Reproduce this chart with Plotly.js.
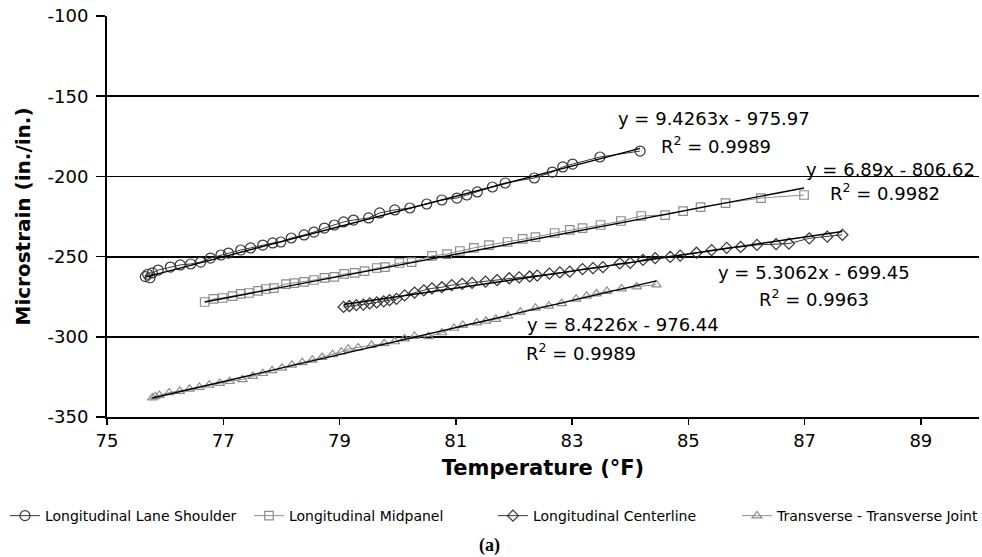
<!DOCTYPE html>
<html><head><meta charset="utf-8">
<script src="https://cdn.plot.ly/plotly-3.0.1.min.js"></script>
<style>html,body{margin:0;padding:0;background:#fff;}#chart{width:982px;height:557px;}</style>
</head><body><div id="chart"></div>
<script>
// ---- data ----
var seriesNames = ['Longitudinal Lane Shoulder','Longitudinal Midpanel','Longitudinal Centerline','Transverse - Transverse Joint'];

var laneShoulderX = [75.66,75.70,75.74,75.78,75.88,76.09,76.26,76.44,76.61,76.78,76.96,77.09,77.30,77.47,77.68,77.85,77.99,78.17,78.39,78.56,78.74,78.91,79.07,79.24,79.50,79.69,79.95,80.21,80.50,80.76,81.02,81.19,81.37,81.63,81.85,82.35,82.66,82.84,83.01,83.48,84.17];
var laneShoulderY = [-262.5,-261.0,-263.2,-260.2,-258.4,-256.5,-255.2,-254.6,-253.4,-250.9,-249.0,-247.8,-245.9,-244.6,-242.8,-241.5,-240.9,-238.4,-236.5,-234.7,-232.2,-230.3,-228.4,-227.2,-225.9,-222.8,-220.9,-219.7,-217.2,-214.7,-213.5,-211.6,-209.7,-206.6,-204.1,-201.0,-197.3,-194.1,-192.3,-187.9,-184.2];

var midpanelX = [76.68,76.83,76.99,77.16,77.30,77.44,77.60,77.73,77.87,78.08,78.22,78.39,78.56,78.74,78.91,79.08,79.26,79.43,79.64,79.78,80.03,80.24,80.59,80.85,81.07,81.31,81.57,81.89,82.15,82.37,82.70,82.96,83.18,83.49,83.84,84.19,84.60,84.91,85.21,85.64,86.25,86.99];
var midpanelY = [-278.3,-276.4,-275.8,-274.6,-273.3,-272.7,-271.4,-270.2,-269.6,-267.1,-266.5,-265.8,-264.6,-263.3,-262.7,-260.8,-260.2,-259.0,-257.1,-256.5,-254.0,-253.4,-249.6,-248.4,-246.5,-244.6,-242.8,-240.9,-239.0,-237.8,-235.3,-233.4,-232.2,-230.3,-227.8,-224.7,-224.1,-221.6,-219.1,-216.6,-213.5,-211.6];

var centerlineX = [79.07,79.17,79.29,79.41,79.52,79.64,79.76,79.86,79.98,80.12,80.29,80.45,80.59,80.76,80.93,81.11,81.28,81.51,81.71,81.92,82.09,82.27,82.40,82.61,82.79,82.96,83.18,83.36,83.53,83.82,84.00,84.22,84.43,84.69,84.86,85.14,85.40,85.66,85.90,86.18,86.51,86.73,87.08,87.39,87.65];
var centerlineY = [-281.4,-280.8,-280.3,-279.9,-279.2,-278.6,-277.9,-277.2,-276.4,-274.2,-272.4,-271.0,-269.8,-269.1,-267.8,-267.0,-266.4,-265.6,-264.6,-263.5,-263.0,-262.4,-261.8,-260.6,-259.9,-259.4,-257.8,-257.2,-256.6,-254.2,-253.9,-252.0,-251.0,-250.2,-249.4,-247.6,-246.0,-244.6,-244.0,-242.7,-242.2,-241.9,-238.6,-237.6,-236.4];

var transverseX = [75.78,75.83,75.90,76.07,76.25,76.42,76.59,76.76,76.94,77.11,77.33,77.51,77.68,77.84,78.01,78.18,78.36,78.53,78.70,78.88,79.03,79.15,79.32,79.55,79.77,79.95,80.12,80.29,80.53,80.76,80.97,81.12,81.36,81.52,81.69,81.90,82.11,82.37,82.60,82.82,83.07,83.25,83.42,83.60,83.85,84.11,84.45];
var transverseY = [-338.0,-337.2,-336.4,-334.8,-333.9,-332.6,-331.4,-330.0,-328.9,-327.8,-326.6,-324.6,-322.8,-321.0,-319.5,-317.6,-316.0,-314.4,-312.8,-311.0,-309.4,-307.6,-306.8,-305.3,-304.2,-303.0,-301.2,-299.6,-299.8,-297.4,-294.6,-292.8,-291.2,-290.2,-289.0,-287.0,-284.5,-282.0,-280.8,-279.2,-276.4,-274.6,-273.2,-271.6,-270.0,-268.8,-267.5];

// linear trendline coefficients (from the chart's equations)
var trendSlopes = [9.4263, 6.89, 5.3062, 8.4226];
var trendIntercepts = [-975.97, -806.62, -699.45, -976.44];
var trendR2 = ['0.9989', '0.9982', '0.9963', '0.9989'];
var eqLabels = ['y = 9.4263x - 975.97', 'y = 6.89x - 806.62', 'y = 5.3062x - 699.45', 'y = 8.4226x - 976.44'];

var yTickVals = [-350, -300, -250, -200, -150, -100];
var xTickVals = [75, 77, 79, 81, 83, 85, 87, 89];

// ---- build chart ----
var xs = [laneShoulderX, midpanelX, centerlineX, transverseX];
var ys = [laneShoulderY, midpanelY, centerlineY, transverseY];
var symbols = ['circle-open', 'square-open', 'diamond-open', 'triangle-up-open'];
var colors = ['#363636', '#8c8c8c', '#363636', '#8c8c8c'];
var sizes = [10, 8.5, 8.5, 8.5];

var traces = [];
for (var i = 0; i < 4; i++) {
  traces.push({
    x: xs[i], y: ys[i], name: seriesNames[i], type: 'scatter', mode: 'lines+markers',
    line: {color: colors[i], width: 1},
    marker: {symbol: symbols[i], size: sizes[i], color: colors[i], line: {width: 1.2, color: colors[i]}}
  });
}
for (var j = 0; j < 4; j++) {
  var x0 = Math.min.apply(null, xs[j]), x1 = Math.max.apply(null, xs[j]);
  traces.push({
    x: [x0, x1], y: [trendSlopes[j] * x0 + trendIntercepts[j], trendSlopes[j] * x1 + trendIntercepts[j]],
    type: 'scatter', mode: 'lines', showlegend: false, hoverinfo: 'skip',
    line: {color: '#000', width: 1.4}
  });
}

var annFont = {family: 'DejaVu Sans', size: 18, color: '#000'};
var eqPos = [[85.45, -163.9], [88.47, -195.4], [87.16, -259.8], [83.88, -292.2]];
var r2Pos = [[85.47, -180.2], [88.38, -209.8], [87.16, -275.6], [83.16, -309.2]];
var annotations = [];
for (var k = 0; k < 4; k++) {
  annotations.push({x: eqPos[k][0], y: eqPos[k][1], xref: 'x', yref: 'y', text: eqLabels[k], showarrow: false, font: annFont, xanchor: 'center', yanchor: 'middle'});
  annotations.push({x: r2Pos[k][0], y: r2Pos[k][1], xref: 'x', yref: 'y', text: 'R<sup>2</sup> = ' + trendR2[k], showarrow: false, font: annFont, xanchor: 'center', yanchor: 'middle'});
}
annotations.push({x: 0.439, y: -0.32, xref: 'paper', yref: 'paper', text: '<b>(a)</b>', showarrow: false,
  font: {family: 'Liberation Serif', size: 18, color: '#000'}, xanchor: 'center', yanchor: 'middle'});

var layout = {
  width: 982, height: 557,
  margin: {l: 107, r: 3, t: 16, b: 140},
  paper_bgcolor: '#fff', plot_bgcolor: '#fff',
  showlegend: true,
  legend: {orientation: 'h', x: -0.117, xanchor: 'left', y: -0.247, yanchor: 'middle',
    font: {family: 'DejaVu Sans', size: 14, color: '#000'}, itemwidth: 30, tracegroupgap: 0,
    entrywidth: 199, entrywidthmode: 'pixels'},
  xaxis: {
    range: [75, 90], tickvals: xTickVals, ticktext: xTickVals.map(String),
    showgrid: false, zeroline: false, showline: true, linecolor: '#000', linewidth: 2,
    ticks: 'outside', ticklen: 6, tickwidth: 1.5, tickcolor: '#000',
    tickfont: {family: 'DejaVu Sans', size: 18, color: '#000'},
    title: {text: '<b>Temperature (°F)</b>', font: {family: 'DejaVu Sans', size: 21, color: '#000'}, standoff: 11}
  },
  yaxis: {
    range: [-350, -100], tickvals: yTickVals, ticktext: yTickVals.map(String),
    showgrid: true, gridcolor: '#000', gridwidth: 1.8, zeroline: false,
    showline: true, linecolor: '#000', linewidth: 2,
    ticks: 'outside', ticklen: 9, tickwidth: 1.5, tickcolor: '#000', ticklabelstandoff: 4,
    tickfont: {family: 'DejaVu Sans', size: 18, color: '#000'},
    title: {text: '<b>Microstrain (in./in.)</b>', font: {family: 'DejaVu Sans', size: 20, color: '#000'}, standoff: 12}
  },
  annotations: annotations
};

Plotly.newPlot('chart', traces, layout, {displayModeBar: false, staticPlot: true});
</script></body></html>
